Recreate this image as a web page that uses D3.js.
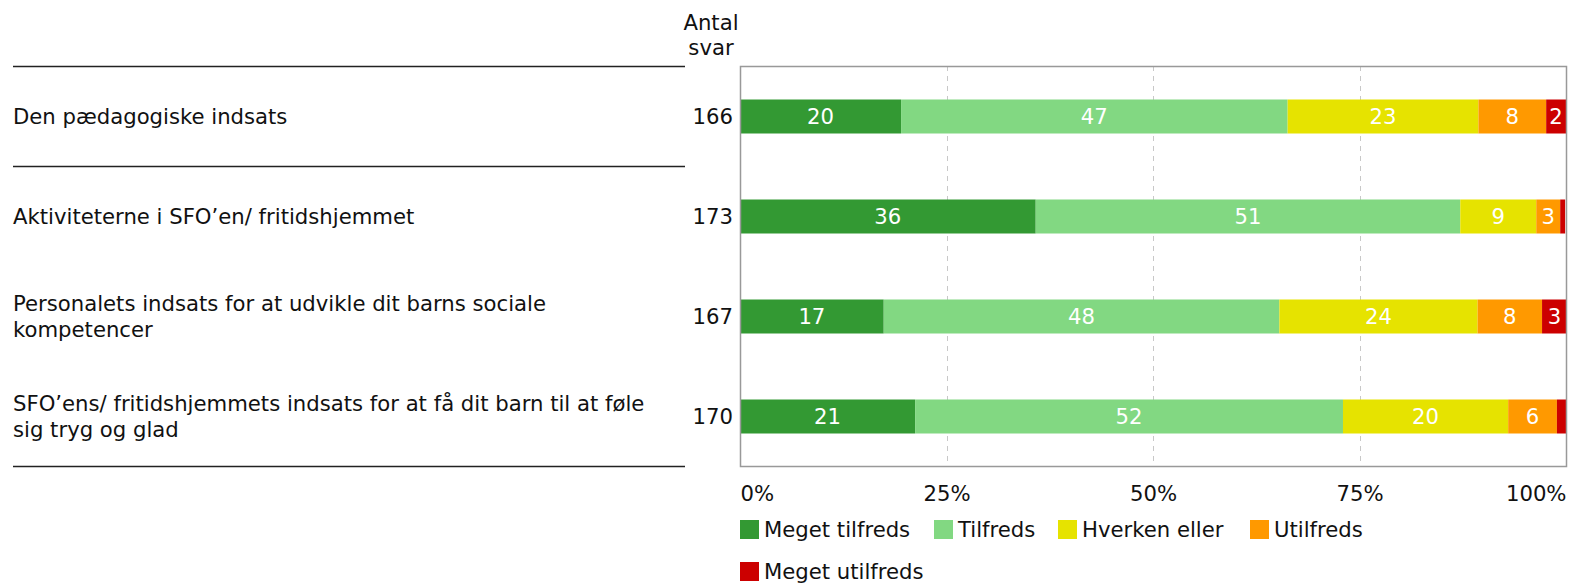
<!DOCTYPE html>
<html><head><meta charset="utf-8">
<script src="https://cdn.jsdelivr.net/npm/d3@7"></script>
<style>
body{margin:0;background:#fff;}
svg{font-family:"DejaVu Sans",Verdana,sans-serif;}
</style></head>
<body><svg id="c" width="1569" height="584"></svg>
<script>
const categories = [
  ["Den pædagogiske indsats"],
  ["Aktiviteterne i SFO’en/ fritidshjemmet"],
  ["Personalets indsats for at udvikle dit barns sociale", "kompetencer"],
  ["SFO’ens/ fritidshjemmets indsats for at få dit barn til at føle", "sig tryg og glad"]
];
const counts = [166, 173, 167, 170];
const seriesNames = ["Meget tilfreds", "Tilfreds", "Hverken eller", "Utilfreds", "Meget utilfreds"];
const seriesColors = ["#339933", "#82d882", "#e6e300", "#ff9900", "#cc0000"];
const megetTilfreds = [19.5, 35.8, 17.4, 21.2];
const tilfreds      = [46.8, 51.4, 47.9, 51.8];
const hverkenEller  = [23.1, 9.2, 24.0, 20.0];
const utilfreds     = [8.2, 2.9, 7.8, 5.9];
const megetUtilfreds= [2.4, 0.6, 3.0, 1.2];
const tickValues = [0, 25, 50, 75, 100];
const tickLabels = ["0%", "25%", "50%", "75%", "100%"];

const series = [megetTilfreds, tilfreds, hverkenEller, utilfreds, megetUtilfreds];
const svg = d3.select("#c");
const L = 740, R = 1566, T = 66, B = 466;
const x = d3.scaleLinear().domain([0, 100]).range([L, R]);
const y = d3.scaleBand().domain(d3.range(categories.length)).range([T, B]).paddingInner(0.67).paddingOuter(0.335);
const FS = 21.2;

// separator lines
[T, T + 100, B].forEach(v => svg.append("line").attr("x1", 13).attr("x2", 685).attr("y1", v + 0.5).attr("y2", v + 0.5).attr("stroke", "#222").attr("stroke-width", 1.3));

// grid
svg.append("g").selectAll("line").data([25, 50, 75]).join("line")
  .attr("x1", d => Math.round(x(d)) + 0.5).attr("x2", d => Math.round(x(d)) + 0.5)
  .attr("y1", T).attr("y2", B).attr("stroke", "#c8c8c8").attr("stroke-dasharray", "5,5");

// bars
categories.forEach((c, i) => {
  let cum = 0;
  series.forEach((s, k) => {
    const v = s[i];
    const x0 = x(cum), x1 = x(cum + v);
    cum += v;
    svg.append("rect").attr("x", x0).attr("y", y(i)).attr("width", x1 - x0).attr("height", y.bandwidth() + 1).attr("fill", seriesColors[k]);
    if (x1 - x0 > 15) {
      svg.append("text").attr("x", (x0 + x1) / 2).attr("y", y(i) + y.bandwidth() / 2 + 0.5).attr("dy", "0.36em")
        .attr("text-anchor", "middle").attr("fill", "#fff").attr("font-size", FS).text(Math.round(v));
    }
  });
  // category labels
  const cy = y(i) + y.bandwidth() / 2 + 0.5;
  const n = c.length;
  c.forEach((line, j) => {
    svg.append("text").attr("x", 13).attr("y", cy + (j - (n - 1) / 2) * 25.5).attr("dy", "0.36em")
      .attr("font-size", FS).attr("fill", "#111").text(line);
  });
  svg.append("text").attr("x", 733).attr("y", cy).attr("dy", "0.36em").attr("text-anchor", "end")
    .attr("font-size", FS).attr("fill", "#111").text(counts[i]);
});

// frame
svg.append("rect").attr("x", L + 0.5).attr("y", T + 0.5).attr("width", R - L).attr("height", B - T)
  .attr("fill", "none").attr("stroke", "#999").attr("stroke-width", 1.5);

// Antal svar
svg.append("text").attr("x", 711).attr("y", 30).attr("text-anchor", "middle").attr("font-size", FS).attr("fill", "#111").text("Antal");
svg.append("text").attr("x", 711).attr("y", 55).attr("text-anchor", "middle").attr("font-size", FS).attr("fill", "#111").text("svar");

// x axis
const ax = d3.axisBottom(x).tickValues(tickValues).tickFormat((d, i) => tickLabels[i]).tickSize(0).tickPadding(0);
const g = svg.append("g").attr("transform", `translate(0,${B})`).call(ax);
g.select(".domain").remove();
g.selectAll("text").attr("font-size", FS).attr("fill", "#111").attr("font-family", "DejaVu Sans, Verdana, sans-serif")
  .attr("y", 35).attr("dy", 0)
  .attr("text-anchor", (d, i) => i === 0 ? "start" : (i === tickValues.length - 1 ? "end" : "middle"));

// legend
const legPos = [[740, 520], [934, 520], [1058, 520], [1250, 520], [740, 562]];
seriesNames.forEach((nm, k) => {
  const [lx, ly] = legPos[k];
  svg.append("rect").attr("x", lx).attr("y", ly).attr("width", 19).attr("height", 19).attr("fill", seriesColors[k]);
  svg.append("text").attr("x", lx + 24).attr("y", ly + 9.5).attr("dy", "0.36em").attr("font-size", FS).attr("fill", "#111").text(nm);
});
</script></body></html>
